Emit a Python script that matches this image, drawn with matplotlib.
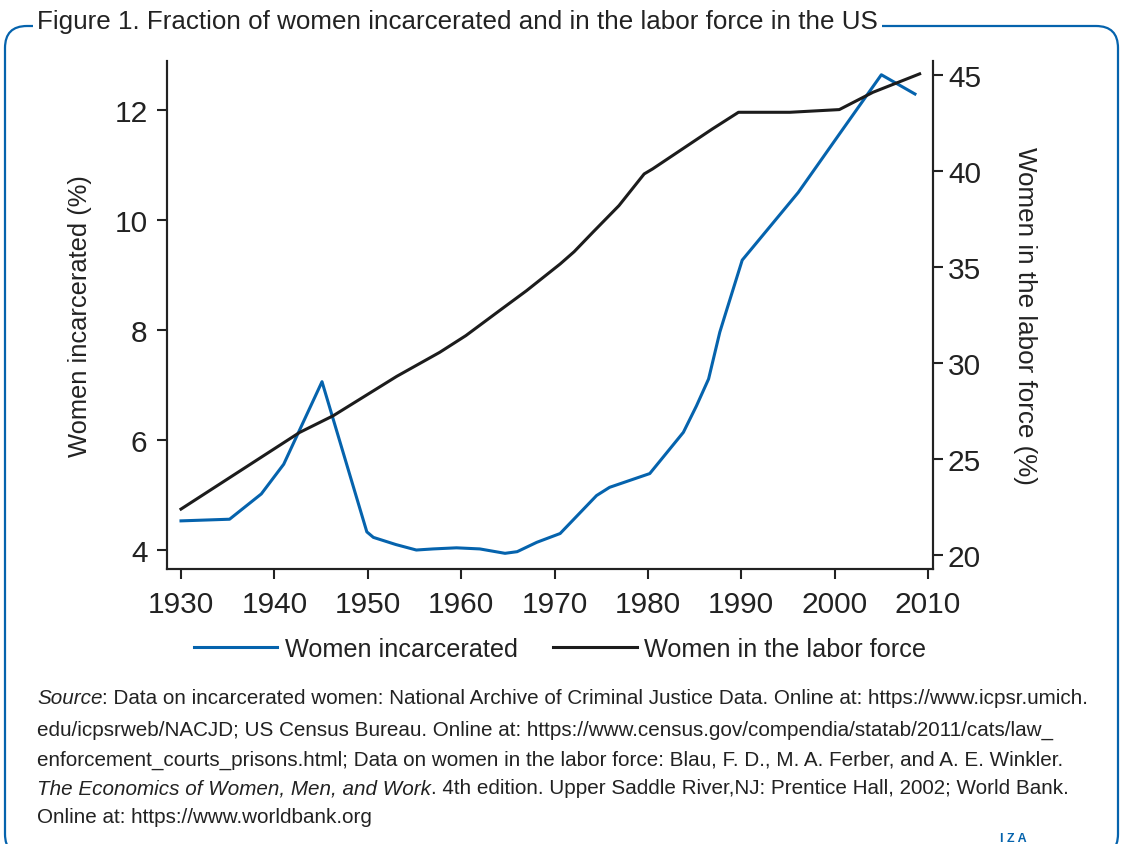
import matplotlib
matplotlib.use("Agg")
import matplotlib.pyplot as plt
from matplotlib.patches import FancyBboxPatch

# 数据：女性入狱比例（左轴）
inc_years = [1930, 1935.2, 1938.6, 1941, 1945.1, 1949.9, 1950.6, 1953, 1955.2, 1957,
             1959.5, 1962, 1964.7, 1966, 1968.1, 1970.6, 1974.5, 1975.9, 1980.2, 1983.8,
             1985.2, 1986.5, 1987.7, 1988.3, 1990.1, 1996.1, 2000.5, 2005, 2008.6]
inc_values = [4.53, 4.56, 5.02, 5.56, 7.06, 4.33, 4.23, 4.10, 4.00, 4.02,
              4.04, 4.02, 3.94, 3.97, 4.14, 4.30, 4.99, 5.14, 5.39, 6.14,
              6.62, 7.11, 7.96, 8.29, 9.27, 10.50, 11.56, 12.64, 12.29]

# 数据：女性劳动参与率（右轴）
lab_years = [1930, 1942.7, 1946.3, 1953.1, 1957.7, 1960.5, 1964.1, 1967, 1970.6, 1972.1,
             1974.1, 1976.9, 1979.6, 1980.5, 1986.9, 1989.7, 1995.2, 2000.5, 2004.1, 2009.1]
lab_values = [22.38, 26.37, 27.24, 29.29, 30.54, 31.41, 32.71, 33.75, 35.14, 35.78,
              36.79, 38.18, 39.83, 40.09, 42.17, 43.04, 43.04, 43.18, 44.08, 45.04]

x_ticks = [1930, 1940, 1950, 1960, 1970, 1980, 1990, 2000, 2010]
left_ticks = [4, 6, 8, 10, 12]
right_ticks = [20, 25, 30, 35, 40, 45]

title = "Figure 1. Fraction of women incarcerated and in the labor force in the US"
source_lines = [
    ("Source", ": Data on incarcerated women: National Archive of Criminal Justice Data. Online at: https://www.icpsr.umich."),
    ("", "edu/icpsrweb/NACJD; US Census Bureau. Online at: https://www.census.gov/compendia/statab/2011/cats/law_"),
    ("", "enforcement_courts_prisons.html; Data on women in the labor force: Blau, F. D., M. A. Ferber, and A. E. Winkler."),
    ("The Economics of Women, Men, and Work", ". 4th edition. Upper Saddle River,NJ: Prentice Hall, 2002; World Bank."),
    ("", "Online at: https://www.worldbank.org"),
]

BLUE = "#0563ad"
DARK = "#1c1c1c"
TXT = "#222222"
FONT = ["Liberation Sans", "DejaVu Sans"]

W, H = 1123, 845
fig = plt.figure(figsize=(W / 100, H / 100), dpi=100)

# 外框（圆角蓝色边框）
frame = FancyBboxPatch((5, -12), 1113, H - 27 + 12, boxstyle="round,pad=0,rounding_size=22",
                       transform=None, fill=False, edgecolor=BLUE, linewidth=1.6)
fig.add_artist(frame)

# 标题（白底遮住边框）
fig.text(37 / W, 1 - 22 / H, title, family=FONT, fontsize=18.7, color=TXT,
         ha="left", va="center",
         bbox=dict(facecolor="white", edgecolor="none", pad=3))

ax = fig.add_axes([167 / W, 1 - 570 / H, 765.7 / W, 508 / H])
ax2 = ax.twinx()

ax.plot(inc_years, inc_values, color=BLUE, lw=2.2, label="Women incarcerated", zorder=3)
ax2.plot(lab_years, lab_values, color=DARK, lw=2.2, label="Women in the labor force")

ax.set_xlim(1928.5, 2010.5)
ax.set_ylim(3.655, 12.89)
ax2.set_ylim(19.26, 45.71)
ax.set_xticks(x_ticks)
ax.set_yticks(left_ticks)
ax2.set_yticks(right_ticks)

for a in (ax, ax2):
    a.spines["top"].set_visible(False)
    for s in a.spines.values():
        s.set_linewidth(1.5)
        s.set_color(TXT)
ax.tick_params(axis="x", length=7, width=1.5, pad=8, labelsize=21.5, colors=TXT)
ax.tick_params(axis="y", length=7, width=1.5, pad=7, labelsize=21.5, colors=TXT)
ax2.tick_params(axis="y", length=7, width=1.5, pad=4, labelsize=21.5, colors=TXT)
for lab in ax.get_xticklabels() + ax.get_yticklabels() + ax2.get_yticklabels():
    lab.set_family(FONT)

ax.set_ylabel("Women incarcerated (%)", family=FONT, fontsize=18.4, color=TXT, va="center")
ax.yaxis.set_label_coords((80 - 167) / 765.7, 0.5)
ax2.set_ylabel("Women in the labor force (%)", family=FONT, fontsize=18.7, color=TXT,
               rotation=-90, va="center")
ax2.yaxis.set_label_coords((1025 - 167) / 765.7, 0.5)

h1, l1 = ax.get_legend_handles_labels()
h2, l2 = ax2.get_legend_handles_labels()
fig.legend(h1 + h2, l1 + l2, loc="center", bbox_to_anchor=(560 / W, 1 - 650 / H), ncol=2,
           frameon=False, handlelength=3.3, handletextpad=0.3, columnspacing=1.4,
           prop=dict(family=FONT, size=18.2), labelcolor=TXT)

# 资料来源
renderer = fig.canvas.get_renderer()
y_pos = [699, 730, 760, 789, 818]
for (ital, rest), yp in zip(source_lines, y_pos):
    x0 = 37
    if ital:
        t = fig.text(x0 / W, 1 - yp / H, ital, family=FONT, style="italic", fontsize=14.9,
                     color=TXT, ha="left", va="center")
        x0 = t.get_window_extent(renderer).x1
    fig.text(x0 / W, 1 - yp / H, rest, family=FONT, fontsize=14.9, color=TXT,
             ha="left", va="center")

# IZA 标志
fig.text(1000 / W, 1 - 833 / H, "I Z A", family=FONT, weight="bold", fontsize=9,
         color=BLUE, ha="left", va="top")

fig.savefig("out.png", dpi=100)
plt.close(fig)
